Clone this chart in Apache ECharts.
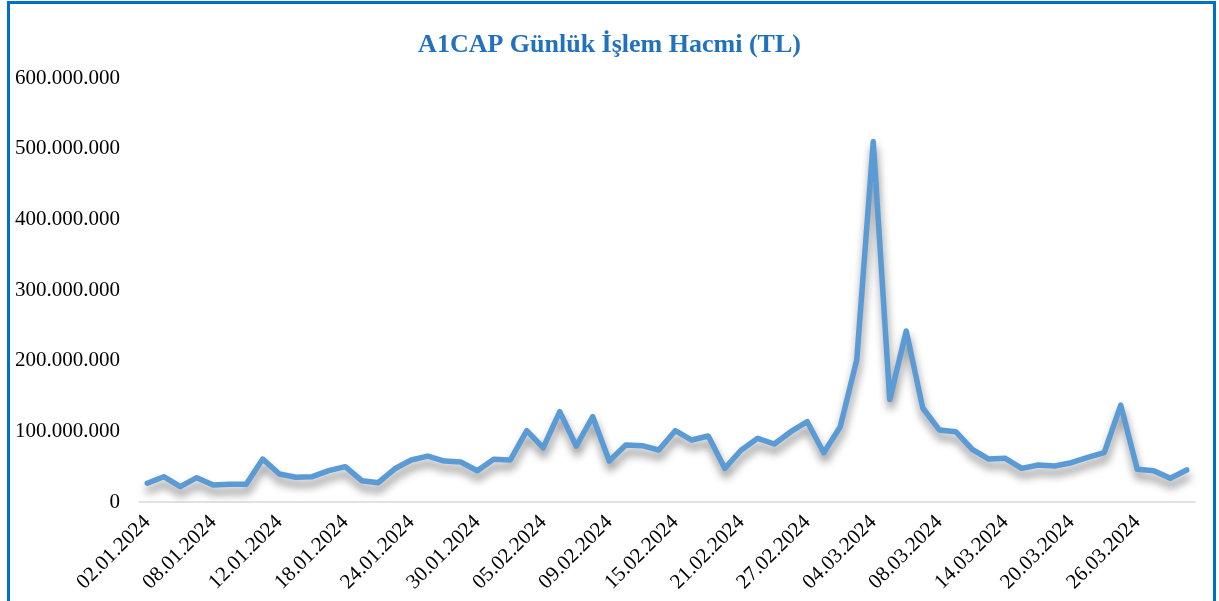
<!DOCTYPE html>
<html>
<head>
<meta charset="utf-8">
<script src="https://cdn.jsdelivr.net/npm/echarts@6/dist/echarts.min.js"></script>
<style>
html,body{margin:0;padding:0;background:#fff;}
#c{width:1219px;height:601px;}
</style>
</head>
<body>
<div id="c"></div>
<script>
const titleText = 'A1CAP Günlük İşlem Hacmi (TL)';
const dates = [
'02.01.2024','03.01.2024','04.01.2024','05.01.2024','08.01.2024','09.01.2024','10.01.2024','11.01.2024','12.01.2024',
'15.01.2024','16.01.2024','17.01.2024','18.01.2024','19.01.2024','22.01.2024','23.01.2024','24.01.2024','25.01.2024',
'26.01.2024','29.01.2024','30.01.2024','31.01.2024',
'01.02.2024','02.02.2024','05.02.2024','06.02.2024','07.02.2024','08.02.2024','09.02.2024','12.02.2024','13.02.2024',
'14.02.2024','15.02.2024','16.02.2024','19.02.2024','20.02.2024','21.02.2024','22.02.2024','23.02.2024','26.02.2024',
'27.02.2024','28.02.2024','29.02.2024',
'01.03.2024','04.03.2024','05.03.2024','06.03.2024','07.03.2024','08.03.2024','11.03.2024','12.03.2024','13.03.2024',
'14.03.2024','15.03.2024','18.03.2024','19.03.2024','20.03.2024','21.03.2024','22.03.2024','25.03.2024','26.03.2024',
'27.03.2024','28.03.2024','29.03.2024'
];
const volumes = [
26500000,35800000,21700000,34400000,24000000,25000000,25000000,60800000,39600000,35000000,
35800000,44300000,50000000,30200000,27300000,47000000,59400000,65000000,58000000,56600000,
44300000,60400000,59400000,100900000,76800000,127800000,79200000,120700000,58000000,80700000,
79700000,73600000,100900000,87700000,93400000,47600000,73600000,90100000,82100000,99500000,
113600000,69800000,106600000,201000000,510000000,145000000,242000000,133000000,102000000,99500000,
74500000,60800000,61800000,47600000,52400000,51000000,55600000,63200000,69800000,137000000,
46300000,44300000,33500000,45300000
];
const yTicks = [0,100000000,200000000,300000000,400000000,500000000,600000000];

const fmt = v => String(Math.round(v)).replace(/\B(?=(\d{3})+(?!\d))/g, '.');

const chart = echarts.init(document.getElementById('c'), null, {renderer:'canvas'});
chart.setOption({
  animation:false,
  backgroundColor:'#fff',
  title:{
    text:titleText, left:'center', top:27,
    textStyle:{fontFamily:'Liberation Serif', fontWeight:'bold', fontSize:26, color:'#2271BC'}
  },
  graphic:[{
    type:'rect', silent:true, z:100,
    shape:{x:8.5, y:2.5, width:1206, height:700},
    style:{fill:'none', stroke:'#0070C0', lineWidth:3}
  }],
  grid:{left:139, right:24, top:78, bottom:99, containLabel:false},
  xAxis:{
    type:'category', data:dates, boundaryGap:true,
    axisLine:{show:true, lineStyle:{color:'#D9D9D9', width:1.5}},
    axisTick:{show:false},
    axisLabel:{interval:3, rotate:45, margin:17, fontFamily:'Liberation Serif', fontSize:21, color:'#000'}
  },
  yAxis:{
    type:'value', min:yTicks[0], max:yTicks[yTicks.length-1], interval:100000000,
    splitLine:{show:false}, axisLine:{show:false}, axisTick:{show:false},
    axisLabel:{margin:19, fontFamily:'Liberation Serif', fontSize:21, color:'#000', formatter:fmt}
  },
  series:[{
    type:'line', data:volumes, showSymbol:false, symbol:'none',
    lineStyle:{color:'#5B9BD5', width:5.5, cap:'round', join:'round',
      shadowColor:'rgba(0,0,0,0.45)', shadowBlur:9, shadowOffsetX:1, shadowOffsetY:7}
  }]
});
</script>
</body>
</html>
